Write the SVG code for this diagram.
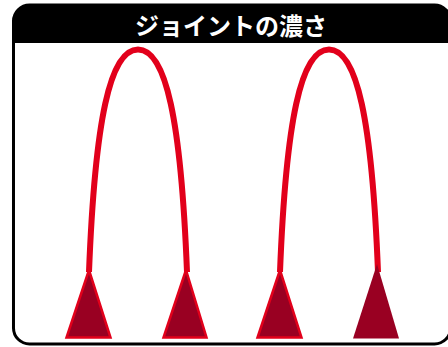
<svg xmlns="http://www.w3.org/2000/svg" width="448" height="347" viewBox="0 0 448 347">
  <defs>
    <clipPath id="frame-clip">
      <rect x="13.5" y="5" width="437" height="339" rx="16" ry="16"/>
    </clipPath>
    <style>
      .arch { fill: none; stroke: #e2001b; stroke-width: 6; stroke-linecap: butt; }
      .foot { fill: #990022; stroke: #e2001b; stroke-width: 2.5; stroke-linejoin: miter; }
      .foot-dark { fill: #990022; stroke: none; }
      .title { font-family: "Noto Sans CJK JP", "Noto Sans", sans-serif; font-weight: bold; font-size: 24px; fill: #ffffff; text-anchor: middle; }
    </style>
  </defs>

  <rect width="448" height="347" fill="#ffffff"/>

  <!-- panel frame with black title band -->
  <g id="frame">
    <rect x="13.5" y="5" width="437" height="38" fill="#000000" clip-path="url(#frame-clip)"/>
    <rect x="13.5" y="5" width="437" height="339" rx="16" ry="16" fill="none" stroke="#000000" stroke-width="3"/>
    <text class="title" x="231" y="35">ジョイントの濃さ</text>
  </g>

  <!-- left joint: outlined feet -->
  <g id="joint-left">
    <path class="arch" d="M89,272 C95,120 110,49.5 138,49.5 C166,49.5 181,120 187,272"/>
    <polygon class="foot" points="89,270 66.5,337.5 110.5,337.5"/>
    <polygon class="foot" points="186,270 163.5,337.5 206.5,337.5"/>
  </g>

  <!-- right joint: one outlined foot, one solid foot -->
  <g id="joint-right">
    <path class="arch" d="M280,272 C286,120 301,49.5 329,49.5 C357,49.5 372,120 378,272"/>
    <polygon class="foot" points="280,270 257.5,337.5 301.5,337.5"/>
    <polygon class="foot-dark" points="377,264 353,338.5 399,338.5"/>
  </g>
</svg>
